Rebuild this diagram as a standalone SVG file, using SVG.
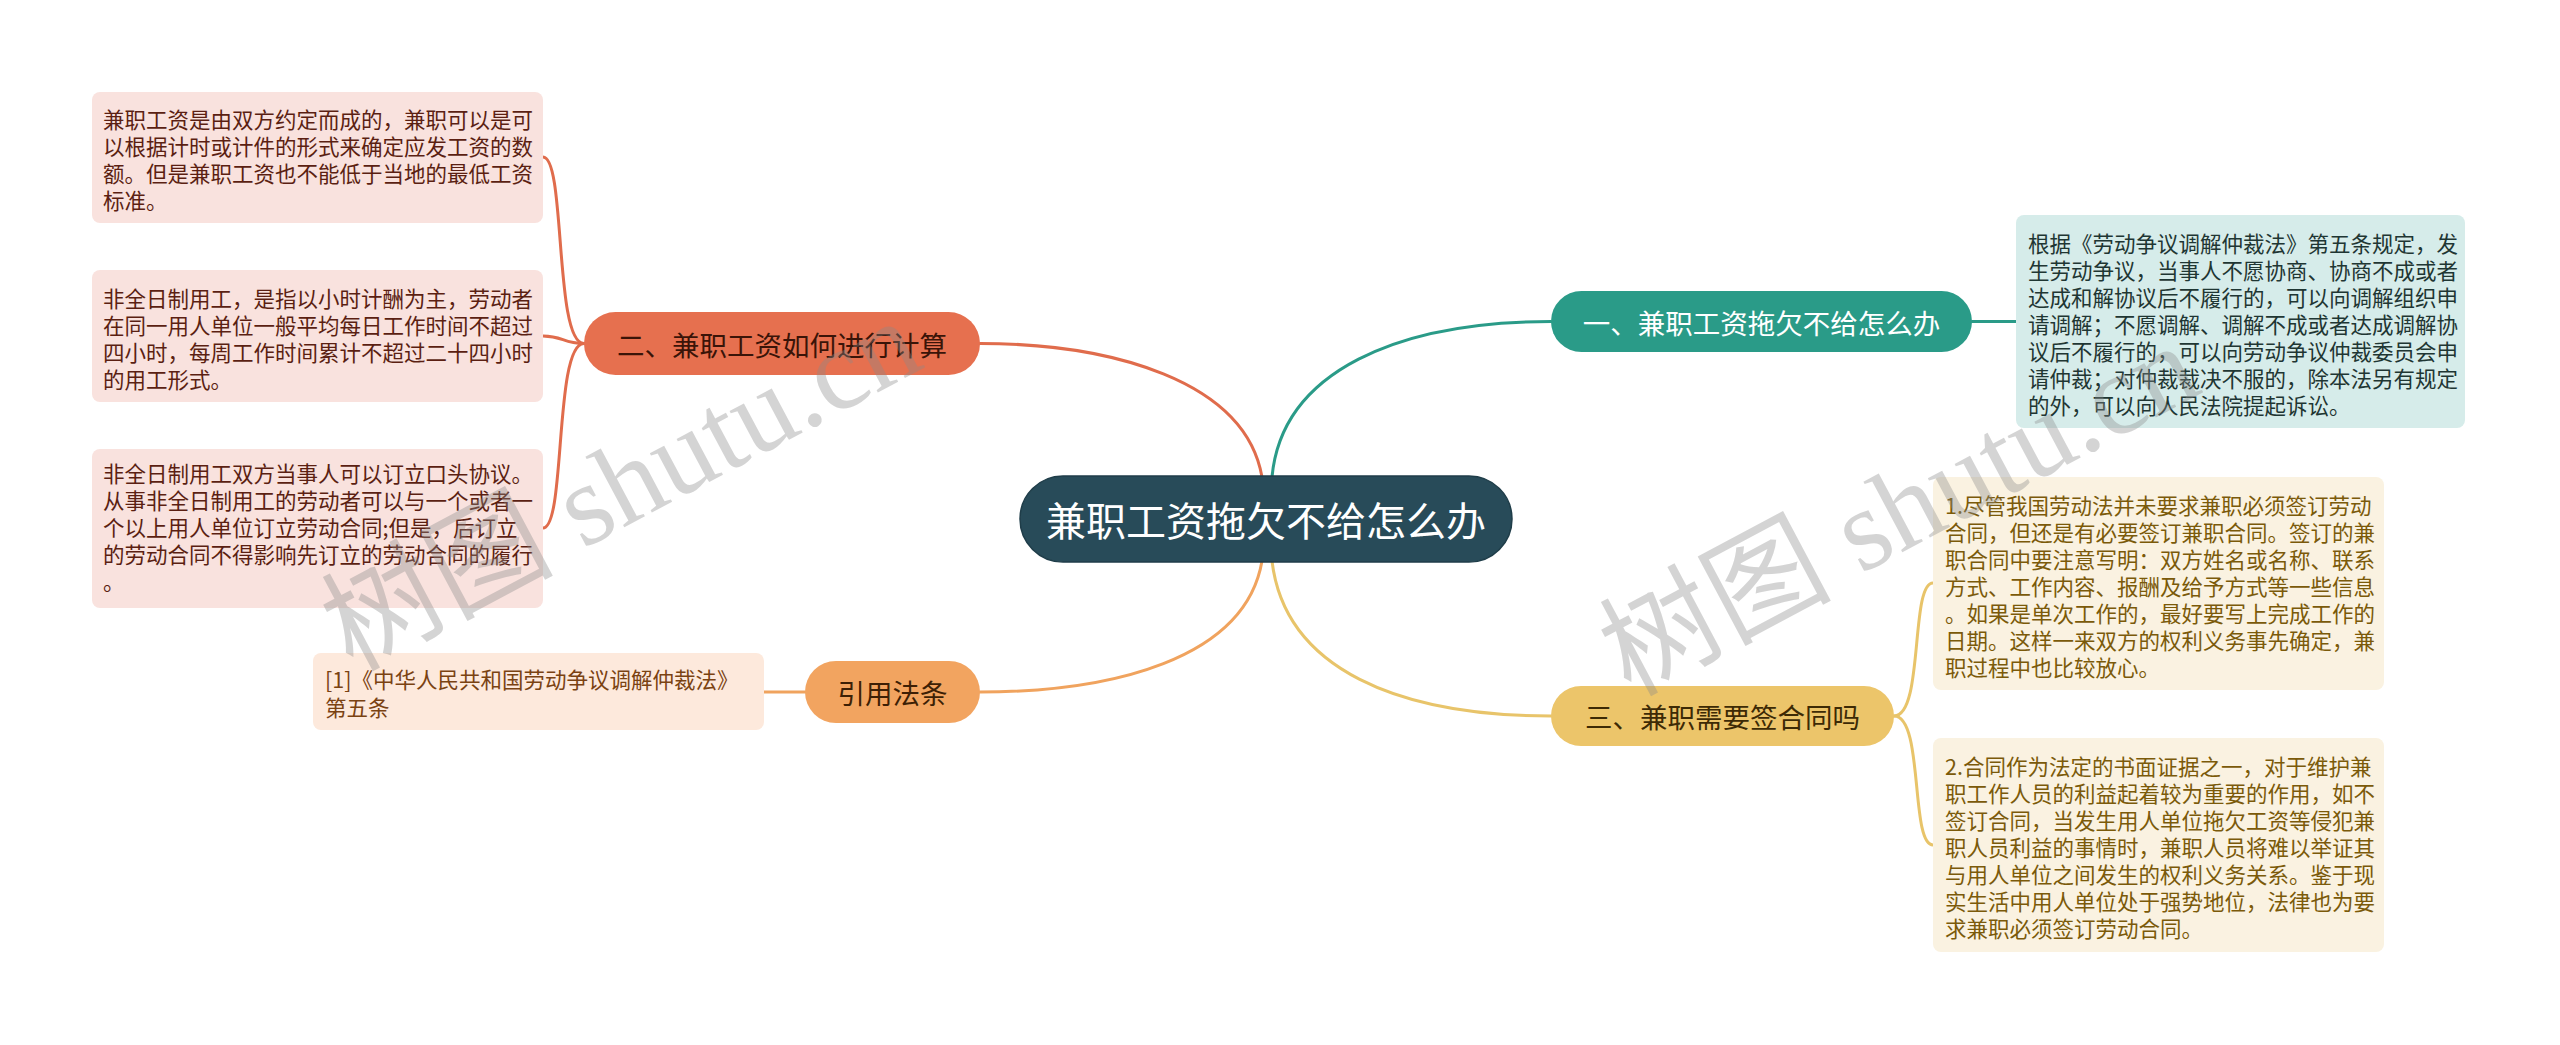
<svg xmlns="http://www.w3.org/2000/svg" width="2560" height="1045" viewBox="0 0 2560 1045">
<style>
.t{font-family:"Noto Sans CJK SC","Noto Sans",sans-serif;}
.node{font-size:27.5px;text-anchor:middle;dominant-baseline:central;}
.box{font-size:21.5px;dominant-baseline:central;}
.ln{fill:none;stroke-width:3;stroke-linecap:round;}
.wm{font-family:"Liberation Serif","Noto Sans CJK SC",serif;font-size:116px;fill:#8a8a8a;opacity:0.36;}
</style>
<rect width="2560" height="1045" fill="#ffffff"/>
<g id="connectors">
<path class="ln" stroke="#2a9b88" d="M1272,477 C1282,370 1400,321.5 1551,321.5"/>
<path class="ln" stroke="#e06c4c" d="M1262,477 C1245,380 1110,343.5 980,343.5"/>
<path class="ln" stroke="#e8c46a" d="M1272,561 C1285,670 1400,716 1551,716"/>
<path class="ln" stroke="#f0a35e" d="M1262,561 C1245,660 1110,692 980,692"/>
<path class="ln" stroke="#2a9b88" d="M1972,321.5 L2016,321.5"/>
<path class="ln" stroke="#e06c4c" d="M584,343.5 C554,343.5 566,157 543,157"/>
<path class="ln" stroke="#e06c4c" d="M584,343.5 C563,343.5 563,336 543,336"/>
<path class="ln" stroke="#e06c4c" d="M584,343.5 C554,343.5 566,528 543,528"/>
<path class="ln" stroke="#e8c46a" d="M1894,716 C1924,716 1910,583 1933,583"/>
<path class="ln" stroke="#e8c46a" d="M1894,716 C1924,716 1910,845 1933,845"/>
<path class="ln" stroke="#f0a35e" d="M805,692 L764,692"/>
</g>
<g id="center">
<rect x="1020" y="476" width="492" height="86" rx="43" fill="#284b59" stroke="#1f3d49" stroke-width="1.5"/>
<text class="t" x="1266" y="519" font-size="40" fill="#ffffff" text-anchor="middle" dominant-baseline="central">兼职工资拖欠不给怎么办</text>
</g>
<g id="n1">
<rect x="1551" y="291" width="421" height="61" rx="30.5" fill="#2a9b88"/>
<text class="t node" x="1761.5" y="321.5" fill="#ffffff">一、兼职工资拖欠不给怎么办</text>
</g>
<g id="n1box">
<rect x="2016" y="215" width="449" height="213" rx="8" fill="#d6ecea"/>
<text class="t box" fill="#1f3633">
<tspan x="2028" y="242">根据《劳动争议调解仲裁法》第五条规定，发</tspan>
<tspan x="2028" y="269">生劳动争议，当事人不愿协商、协商不成或者</tspan>
<tspan x="2028" y="296">达成和解协议后不履行的，可以向调解组织申</tspan>
<tspan x="2028" y="323">请调解；不愿调解、调解不成或者达成调解协</tspan>
<tspan x="2028" y="350">议后不履行的，可以向劳动争议仲裁委员会申</tspan>
<tspan x="2028" y="377">请仲裁；对仲裁裁决不服的，除本法另有规定</tspan>
<tspan x="2028" y="404">的外，可以向人民法院提起诉讼。</tspan>
</text>
</g>
<g id="n2">
<rect x="584" y="312" width="396" height="63" rx="31.5" fill="#e6704f"/>
<text class="t node" x="782" y="343.5" fill="#3a1408">二、兼职工资如何进行计算</text>
</g>
<g id="n2a">
<rect x="92" y="92" width="451" height="131" rx="8" fill="#f9e2de"/>
<text class="t box" fill="#5b1f12">
<tspan x="103" y="118">兼职工资是由双方约定而成的，兼职可以是可</tspan>
<tspan x="103" y="145">以根据计时或计件的形式来确定应发工资的数</tspan>
<tspan x="103" y="172">额。但是兼职工资也不能低于当地的最低工资</tspan>
<tspan x="103" y="199">标准。</tspan>
</text>
</g>
<g id="n2b">
<rect x="92" y="270" width="451" height="132" rx="8" fill="#f9e2de"/>
<text class="t box" fill="#5b1f12">
<tspan x="103" y="297">非全日制用工，是指以小时计酬为主，劳动者</tspan>
<tspan x="103" y="324">在同一用人单位一般平均每日工作时间不超过</tspan>
<tspan x="103" y="351">四小时，每周工作时间累计不超过二十四小时</tspan>
<tspan x="103" y="378">的用工形式。</tspan>
</text>
</g>
<g id="n2c">
<rect x="92" y="449" width="451" height="159" rx="8" fill="#f9e2de"/>
<text class="t box" fill="#5b1f12">
<tspan x="103" y="472">非全日制用工双方当事人可以订立口头协议。</tspan>
<tspan x="103" y="499">从事非全日制用工的劳动者可以与一个或者一</tspan>
<tspan x="103" y="526">个以上用人单位订立劳动合同;但是，后订立</tspan>
<tspan x="103" y="553">的劳动合同不得影响先订立的劳动合同的履行</tspan>
<tspan x="103" y="580">。</tspan>
</text>
</g>
<g id="n3">
<rect x="1551" y="686" width="343" height="60" rx="30" fill="#ecc56a"/>
<text class="t node" x="1722.5" y="716" fill="#3d2a05">三、兼职需要签合同吗</text>
</g>
<g id="n3a">
<rect x="1933" y="477" width="451" height="213" rx="8" fill="#faf2e1"/>
<text class="t box" fill="#7b5a0a">
<tspan x="1945" y="504">1.尽管我国劳动法并未要求兼职必须签订劳动</tspan>
<tspan x="1945" y="531">合同，但还是有必要签订兼职合同。签订的兼</tspan>
<tspan x="1945" y="558">职合同中要注意写明：双方姓名或名称、联系</tspan>
<tspan x="1945" y="585">方式、工作内容、报酬及给予方式等一些信息</tspan>
<tspan x="1945" y="612">。如果是单次工作的，最好要写上完成工作的</tspan>
<tspan x="1945" y="639">日期。这样一来双方的权利义务事先确定，兼</tspan>
<tspan x="1945" y="666">职过程中也比较放心。</tspan>
</text>
</g>
<g id="n3b">
<rect x="1933" y="738" width="451" height="214" rx="8" fill="#faf2e1"/>
<text class="t box" fill="#7b5a0a">
<tspan x="1945" y="765">2.合同作为法定的书面证据之一，对于维护兼</tspan>
<tspan x="1945" y="792">职工作人员的利益起着较为重要的作用，如不</tspan>
<tspan x="1945" y="819">签订合同，当发生用人单位拖欠工资等侵犯兼</tspan>
<tspan x="1945" y="846">职人员利益的事情时，兼职人员将难以举证其</tspan>
<tspan x="1945" y="873">与用人单位之间发生的权利义务关系。鉴于现</tspan>
<tspan x="1945" y="900">实生活中用人单位处于强势地位，法律也为要</tspan>
<tspan x="1945" y="927">求兼职必须签订劳动合同。</tspan>
</text>
</g>
<g id="n4">
<rect x="805" y="661" width="175" height="62" rx="31" fill="#f2a460"/>
<text class="t node" x="892.5" y="692" fill="#3d1f05">引用法条</text>
</g>
<g id="n4a">
<rect x="313" y="653" width="451" height="77" rx="8" fill="#fde9dc"/>
<text class="t box" fill="#7a4212">
<tspan x="325" y="678">[1]《中华人民共和国劳动争议调解仲裁法》</tspan>
<tspan x="325" y="706">第五条</tspan>
</text>
</g>
<g id="watermarks">
<text class="wm" x="352" y="672" transform="rotate(-28 352 672)">树图 shutu.cn</text>
<text class="wm" x="1630" y="697" transform="rotate(-28 1630 697)">树图 shutu.cn</text>
</g>
</svg>
